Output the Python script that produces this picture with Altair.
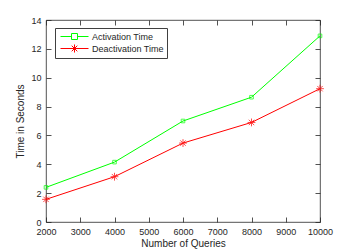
import altair as alt
import pandas as pd

queries = [2000, 4000, 6000, 8000, 10000]
activation = [2.4, 4.15, 7.0, 8.65, 12.9]
deactivation = [1.57, 3.14, 5.47, 6.9, 9.24]
series_names = ["Activation Time", "Deactivation Time"]
series_colors = ["#00ff00", "#ff0000"]
x_ticks = list(range(2000, 10001, 1000))
y_ticks = list(range(0, 15, 2))

rows = []
for q, a, d in zip(queries, activation, deactivation):
    rows.append({"q": q, "t": a, "s": series_names[0]})
    rows.append({"q": q, "t": d, "s": series_names[1]})
df = pd.DataFrame(rows)

FONT = "Liberation Sans"
TXT = "#262626"

square_path = "M-0.6,-0.6H0.6V0.6H-0.6Z"
star_path = "M-1.3,0H1.3M0,-1.3V1.3M-0.9,-0.9L0.9,0.9M-0.9,0.9L0.9,-0.9"
leg_square = "M-2.8,0H-0.6M0.6,0H2.8M-0.6,-0.6H0.6V0.6H-0.6Z"
leg_star = "M-2.8,0H2.8M0,-0.8V0.8M-0.56,-0.56L0.56,0.56M-0.56,0.56L0.56,-0.56"
marker_paths = [square_path, star_path]

xscale = alt.Scale(domain=[2000, 10000], nice=False)
yscale = alt.Scale(domain=[0, 14], nice=False)

common_axis = dict(
    domain=False, ticks=True, tickSize=5, offset=-5, tickColor=TXT,
    tickWidth=0.8, grid=False, labelFont=FONT, labelFontSize=9,
    labelColor=TXT, titleFont=FONT, titleFontSize=10, titleColor=TXT,
    titleFontWeight="normal", format="d",
)

base = alt.Chart(df)
layers = []

for i, name in enumerate(series_names):
    if i == 0:
        xe = alt.X("q:Q", scale=xscale, axis=alt.Axis(
            orient="bottom", values=x_ticks, title="Number of Queries",
            labelPadding=5, titlePadding=2, labelFlush=False, **common_axis))
        ye = alt.Y("t:Q", scale=yscale, axis=alt.Axis(
            orient="left", values=y_ticks, title="Time in Seconds",
            labelPadding=5, titlePadding=5, **common_axis))
    else:
        xe = alt.X("q:Q", scale=xscale, axis=None)
        ye = alt.Y("t:Q", scale=yscale, axis=None)
    sub = base.transform_filter(alt.datum.s == name)
    layers.append(sub.mark_line(strokeWidth=1, color=series_colors[i]).encode(x=xe, y=ye))
    layers.append(sub.mark_point(filled=False, strokeWidth=1, size=36,
                                 shape=marker_paths[i], color=series_colors[i]).encode(
        x=alt.X("q:Q", scale=xscale, axis=None),
        y=alt.Y("t:Q", scale=yscale, axis=None)))

legend_layer = base.mark_point(filled=False, opacity=0, strokeWidth=1).encode(
    x=alt.X("q:Q", scale=xscale, axis=alt.Axis(
        orient="top", values=x_ticks, labels=False, title=None, **common_axis)),
    y=alt.Y("t:Q", scale=yscale, axis=alt.Axis(
        orient="right", values=y_ticks, labels=False, title=None, **common_axis)),
    color=alt.Color("s:N", scale=alt.Scale(domain=series_names, range=series_colors),
                    legend=alt.Legend(
        title=None, orient="none", legendX=9, legendY=8,
        padding=3, symbolSize=100, symbolOffset=11, labelOffset=12,
        rowPadding=0, labelFont=FONT, labelFontSize=9, labelColor=TXT,
        labelExpr="datum.label + '   '", symbolOpacity=1,
        strokeColor="#404040", fillColor="white", symbolStrokeWidth=1)),
    shape=alt.Shape("s:N", scale=alt.Scale(domain=series_names,
                                           range=[leg_square, leg_star])),
)
layers.append(legend_layer)

chart = alt.layer(*layers).resolve_axis(
    x="independent", y="independent"
).properties(
    width=274, height=202,
    autosize=alt.AutoSizeParams(type="none"),
    padding={"left": 38, "top": 12, "right": 26, "bottom": 30},
    background="white",
).configure_view(stroke=TXT, strokeWidth=0.8)

chart.save("out.html", embed_options={"renderer": "svg", "actions": False})
